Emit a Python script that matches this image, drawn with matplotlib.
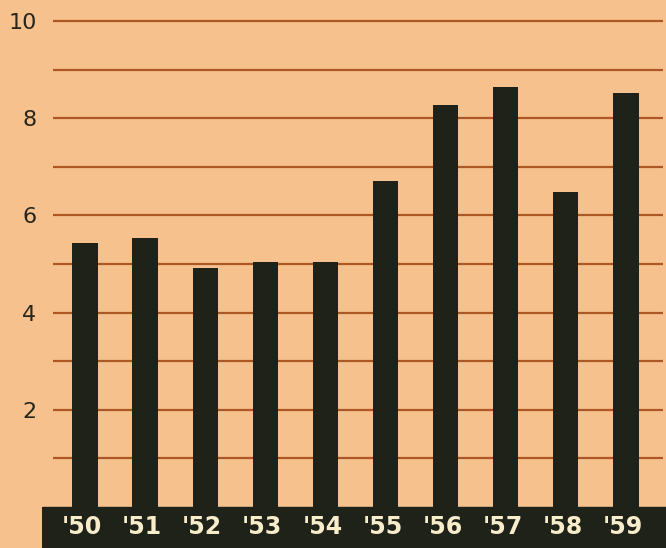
import matplotlib
matplotlib.use('Agg')
import matplotlib.pyplot as plt

years = ["'50", "'51", "'52", "'53", "'54", "'55", "'56", "'57", "'58", "'59"]
values = [5.43, 5.53, 4.92, 5.04, 5.04, 6.71, 8.27, 8.64, 6.48, 8.52]
y_ticks = [2, 4, 6, 8, 10]
grid_levels = [1, 2, 3, 4, 5, 6, 7, 8, 9, 10]

BG = '#f6c18c'
GRID = '#ad5824'
BAR = '#1e2219'

fig = plt.figure(figsize=(6.66, 5.48), dpi=100, facecolor=BG)
ax = fig.add_axes([42 / 666, 0, 1 - 42 / 666, 1])
ax.set_facecolor(BG)

x = list(range(len(years)))
ax.set_xlim(-0.7155, 9.667)
ax.set_ylim(-0.844, 10.43)

# gridlines behind the bars
ax.hlines(grid_levels, -0.532, 9.617, colors=GRID, linewidth=1.6, zorder=1)

# black band along the bottom
ax.axhspan(-0.844, 0, color=BAR, zorder=2)
ax.bar(x, values, width=0.42, color=BAR, zorder=3)

for xi, lab in zip(x, years):
    ax.text(xi - 0.05, -0.42, lab, ha='center', va='center', color='#f8eccb',
            fontsize=17, fontweight='bold', zorder=4)

ax.set_yticks(y_ticks)
ax.set_yticklabels([str(t) for t in y_ticks], fontsize=16, color='#26261c')
ax.tick_params(axis='y', length=0, pad=4)
ax.set_xticks([])
for s in ax.spines.values():
    s.set_visible(False)

plt.savefig('out.png', dpi=100, facecolor=BG)
